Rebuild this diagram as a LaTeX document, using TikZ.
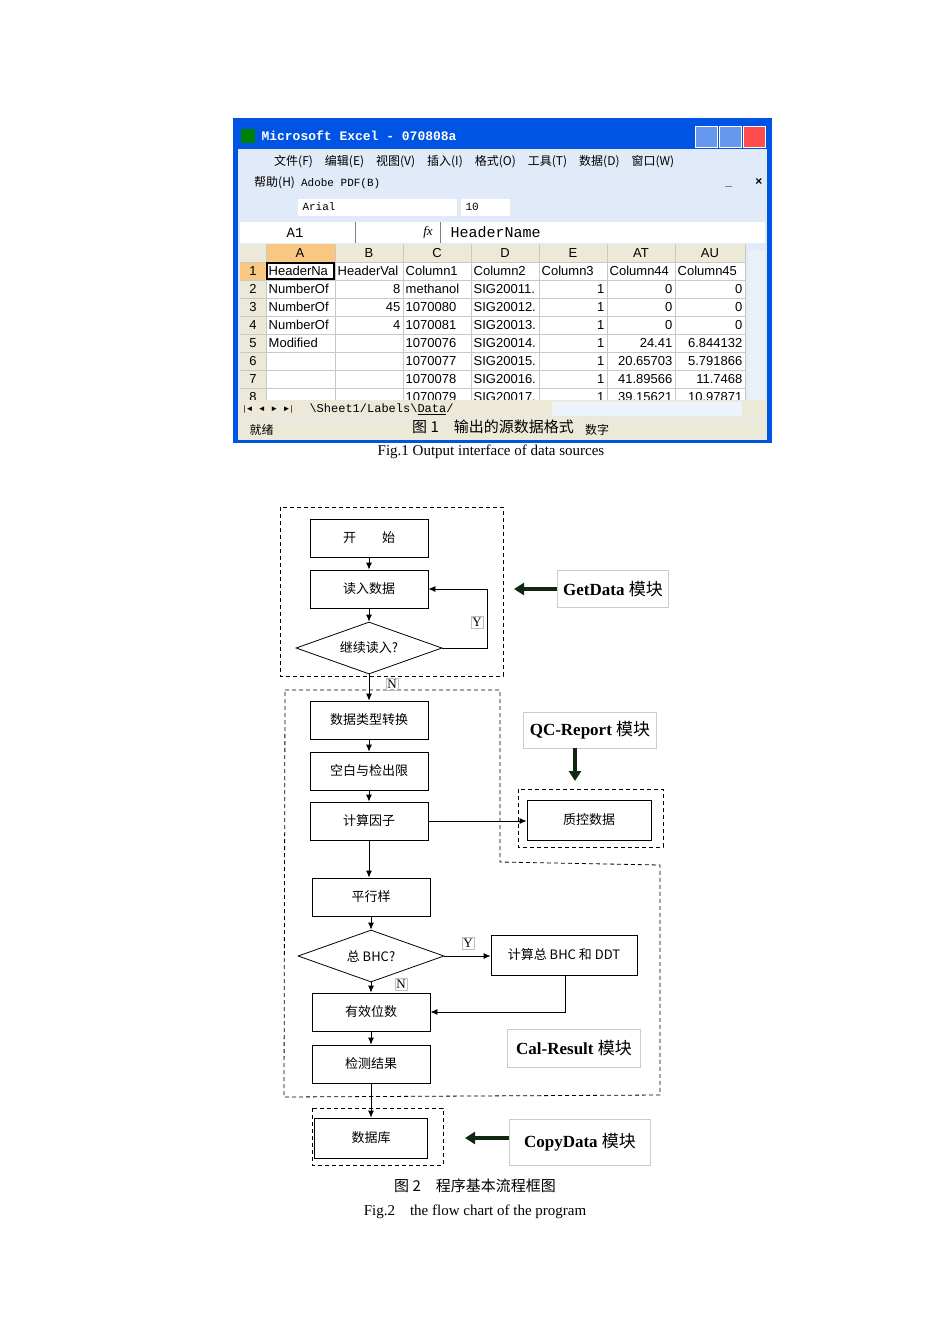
\documentclass[tikz,border=0pt]{standalone}
\usepackage{fontspec}
\setmainfont{Liberation Serif}
\newfontfamily\cjk{Noto Sans CJK SC}
\newfontfamily\cellfont{Liberation Sans}
\newfontfamily\monofont{Liberation Mono}
\usetikzlibrary{arrows.meta,shapes.geometric,positioning}
\definecolor{xpblue}{RGB}{0,84,227}
\definecolor{barbg}{RGB}{225,234,248}
\definecolor{hdrbg}{RGB}{236,233,216}
\definecolor{selhdr}{RGB}{248,200,130}
\definecolor{gridc}{RGB}{200,200,200}
\definecolor{darkarr}{RGB}{15,40,15}
\tikzset{
  box/.style={draw, thick, minimum width=118pt, minimum height=38pt, font=\cjk\fontsize{13}{15}\selectfont},
  dec/.style={draw, thick, diamond, aspect=2.9, inner sep=0pt, minimum width=146pt, minimum height=52pt, font=\cjk\fontsize{13}{15}\selectfont},
  tag/.style={draw=gray!50, inner sep=1.5pt, font=\fontsize{13}{15}\selectfont},
  modlabel/.style={draw=gray!40, inner sep=3pt, font=\bfseries\fontsize{17}{19}\selectfont},
  flow/.style={thick, -{Latex[length=7pt,width=6pt]}},
  fat/.style={line width=4pt, draw=darkarr, -{Triangle[length=10pt,width=12pt]}},
  module/.style={dashed, thick, dash pattern=on 4pt off 3pt},
  cell/.style={font=\cellfont\fontsize{13}{14}\selectfont, inner sep=1.5pt},
}
\begin{document}
\begin{tikzpicture}[x=1pt,y=-1pt]
\useasboundingbox (0,0) rectangle (950,1344);
% ---- Excel window ----
\fill[xpblue] (233,118) rectangle (772,443);
\fill[barbg] (238,149) rectangle (767,440);
\node[anchor=west, text=white, font=\monofont\bfseries\fontsize{13}{15}\selectfont] (title) at (258,136) {Microsoft Excel - 070808a};
\fill[green!50!black] (241,129) rectangle (255,143);
\foreach \x/\c in {695/xpblue!60, 719/xpblue!60, 743/red!70} {
  \filldraw[draw=white, fill=\c] (\x,126) rectangle ++(22,21);
}
\node[anchor=west, font=\cjk\fontsize{12}{14}\selectfont, inner sep=0pt] (menu1) at (274,162) {文件(F)\enspace\; 编辑(E)\enspace\; 视图(V)\enspace\; 插入(I)\enspace\; 格式(O)\enspace\; 工具(T)\enspace\; 数据(D)\enspace\; 窗口(W)};
\node[anchor=west, font=\cjk\fontsize{12}{14}\selectfont, inner sep=0pt] (menu2) at (254,183) {帮助(H)\enspace {\monofont\fontsize{11}{13}\selectfont Adobe PDF(B)}};
\node[anchor=east, font=\cellfont\bfseries\fontsize{12}{14}\selectfont] (wctl) at (766,183) {\_\ \ \ \ \ \ \ ×};
\fill[white] (298,199) rectangle (457,216);
\fill[white] (461,199) rectangle (510,216);
\node[anchor=west, font=\monofont\fontsize{11}{12}\selectfont] (fontname) at (299,207) {Arial};
\node[anchor=west, font=\monofont\fontsize{11}{12}\selectfont] (fontsize) at (462,207) {10};
\fill[white] (240,222) rectangle (765,243);
\draw[gray] (355,222) -- (355,243) (440,222) -- (440,243);
\node[font=\monofont\fontsize{14}{16}\selectfont] (ref) at (295,233) {A1};
\node[font=\itshape\fontsize{13}{15}\selectfont] (fx) at (428,232) {fx};
\node[anchor=west, font=\monofont\fontsize{15}{16}\selectfont] (fval) at (447,232) {HeaderName};
% grid
\fill[white] (240,262) rectangle (745,400);
\fill[hdrbg] (240,244) rectangle (745,262);
\fill[hdrbg] (240,262) rectangle (266,400);
\fill[selhdr] (266,244) rectangle (335,262);
\fill[selhdr] (240,262) rectangle (266,280);
\foreach \x in {266,335,403,471,539,607,675,745} \draw[gridc] (\x,244) -- (\x,400);
\foreach \y in {262,280,298,316,334,352,370,388} \draw[gridc] (240,\y) -- (745,\y);
\fill[barbg!70!white] (748,250) rectangle (765,400);
\foreach \c/\x in {A/300,B/369,C/437,D/505,E/573,AT/641,AU/710}
  \node[cell] (col\c) at (\x,253) {\c};
\foreach \r in {1,...,8}
  \node[cell] (row\r) at (253,262+18*\r-9) {\r};
\draw[very thick] (267,263) rectangle (334,279);
\foreach \t [count=\i] in {HeaderNa,NumberOf,NumberOf,NumberOf,Modified}
  \node[cell, anchor=west] (a\i) at (267,262+18*\i-9) {\t};
\node[cell, anchor=west] (b1) at (336,271) {HeaderVal};
\foreach \t [count=\i] in {8,45,4} \node[cell, anchor=east] (b\i) at (402,280+18*\i-9) {\t};
\foreach \t [count=\i] in {Column1,methanol,1070080,1070081,1070076,1070077,1070078}
  \node[cell, anchor=west] (c\i) at (404,262+18*\i-9) {\t};
\foreach \t [count=\i] in {Column2,SIG20011.,SIG20012.,SIG20013.,SIG20014.,SIG20015.,SIG20016.}
  \node[cell, anchor=west] (d\i) at (472,262+18*\i-9) {\t};
\node[cell, anchor=west] (e1) at (540,271) {Column3};
\foreach \i in {2,...,7} \node[cell, anchor=east] (e\i) at (606,262+18*\i-9) {1};
\node[cell, anchor=west] (at1) at (608,271) {Column44};
\foreach \t [count=\i] in {0,0,0,24.41,20.65703,41.89566}
  \node[cell, anchor=east] (at\i) at (674,280+18*\i-9) {\t};
\node[cell, anchor=west] (au1) at (676,271) {Column45};
\foreach \t [count=\i] in {0,0,0,6.844132,5.791866,11.7468}
  \node[cell, anchor=east] (au\i) at (744,280+18*\i-9) {\t};
\begin{scope}
  \clip (266,388) rectangle (745,400);
  \node[cell, anchor=west] (c8) at (404,397) {1070079};
  \node[cell, anchor=west] (d8) at (472,397) {SIG20017.};
  \node[cell, anchor=east] (e8) at (606,397) {1};
  \node[cell, anchor=east] (at8) at (674,397) {39.15621};
  \node[cell, anchor=east] (au8) at (744,397) {10.97871};
\end{scope}
% sheet tabs
\fill[hdrbg] (238,400) rectangle (767,418);
\node[anchor=west, font=\cellfont\fontsize{8}{10}\selectfont] (tabnav) at (240,409) {|◄\ \ ◄\ \ ►\ \ ►|};
\node[anchor=west, font=\monofont\fontsize{12}{13}\selectfont] (tabs) at (306,409) {\textbackslash Sheet1/Labels\textbackslash\underline{Data}/};
\fill[barbg!60!white] (552,402) rectangle (742,416);
\fill[hdrbg] (238,419) rectangle (767,440);
\node[anchor=west, font=\cjk\fontsize{12}{14}\selectfont] (ready) at (246,430) {就绪};
\node[font=\cjk\fontsize{15}{17}\selectfont] (fig1cn) at (493,427) {图 1\quad 输出的源数据格式};
\node[font=\cjk\fontsize{12}{14}\selectfont] (num) at (597,430) {数字};
\node[font=\fontsize{15}{17}\selectfont] (fig1) at (491,452) {Fig.1 Output interface of data sources};
% ---- flowchart ----
\draw[module] (280,507) rectangle (503,676);
\draw[module] (285,690) -- (500,690) -- (500,862) -- (660,865) -- (660,1095) -- (284,1097) -- cycle;
\draw[module] (518,789) rectangle (663,847);
\draw[module] (312,1108) rectangle (443,1165);
\node[box] (start) at (369,538) {开\qquad 始};
\node[box] (read) at (369,589) {读入数据};
\node[dec] (more) at (369,648) {继续读入?};
\node[box] (conv) at (369,720) {数据类型转换};
\node[box] (blank) at (369,771) {空白与检出限};
\node[box] (factor) at (369,821) {计算因子};
\node[box, minimum width=124pt, minimum height=40pt] (qc) at (589,820) {质控数据};
\node[box] (para) at (371,897) {平行样};
\node[dec] (bhc) at (371,956) {总 BHC?};
\node[box, minimum width=146pt, minimum height=40pt] (calc) at (564,955) {计算总 BHC 和 DDT};
\node[box] (valid) at (371,1012) {有效位数};
\node[box] (res) at (371,1064) {检测结果};
\node[box, minimum width=113pt, minimum height=40pt] (db) at (371,1138) {数据库};
\coordinate (loopA) at (487,648);
\coordinate (loopB) at (487,589);
\coordinate (calcB) at (565,1012);
\draw[flow] (start) -- (read);
\draw[flow] (read) -- (more);
\draw[flow] (more.east) -- (loopA) -- (loopB) -- (read.east);
\draw[flow] (more.south) -- (conv.north);
\draw[flow] (conv) -- (blank);
\draw[flow] (blank) -- (factor);
\draw[flow] (factor.east) -- (factor.east -| qc.west);
\draw[flow] (factor.south) -- (factor.south |- para.north);
\draw[flow] (para) -- (bhc);
\draw[flow] (bhc.east) -- (bhc.east -| calc.west);
\draw[flow] (bhc.south) -- (valid.north);
\draw[flow] (calc.south -| calcB) -- (calcB) -- (valid.east);
\draw[flow] (valid) -- (res);
\draw[flow] (res) -- (db);
\node[tag] (ytag1) at (477,622) {Y};
\node[tag] (ntag1) at (392,684) {N};
\node[tag] (ytag2) at (468,943) {Y};
\node[tag] (ntag2) at (401,984) {N};
\node[modlabel, minimum width=111pt, minimum height=37pt] (getdata) at (613,589) {GetData {\cjk\mdseries 模块}};
\node[modlabel, minimum width=133pt, minimum height=36pt] (qcrep) at (590,730) {QC-Report {\cjk\mdseries 模块}};
\node[modlabel, minimum width=133pt, minimum height=38pt] (calres) at (574,1048) {Cal-Result {\cjk\mdseries 模块}};
\node[modlabel, minimum width=141pt, minimum height=46pt] (copydata) at (580,1142) {CopyData {\cjk\mdseries 模块}};
\coordinate (qcArr) at (575,781);
\coordinate (getArr) at (514,589);
\coordinate (copyArr) at (465,1138);
\draw[fat] (getdata.west) -- (getArr);
\draw[fat] (qcrep.south -| qcArr) -- (qcArr);
\draw[fat] (copydata.west |- copyArr) -- (copyArr);
\node[font=\cjk\fontsize{15}{17}\selectfont] (fig2cn) at (475,1186) {图 2\quad 程序基本流程框图};
\node[font=\fontsize{15}{17}\selectfont] (fig2) at (475,1212) {Fig.2\quad the flow chart of the program};
\end{tikzpicture}
\end{document}
